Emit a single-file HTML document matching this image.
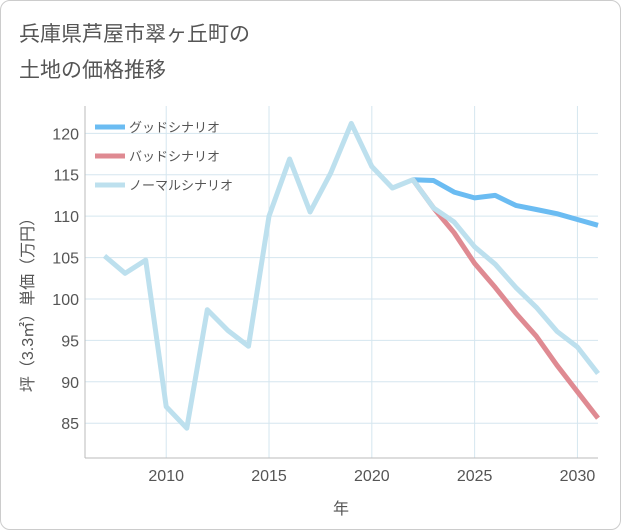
<!DOCTYPE html>
<html><head><meta charset="utf-8"><style>
body{margin:0;background:#fff;font-family:"Liberation Sans","Noto Sans CJK JP",sans-serif}
#wrap{position:relative;width:619px;height:528px;border:1px solid #ccc;border-radius:10px;overflow:hidden}
</style></head><body>
<div id="wrap">
<svg id="c" width="619" height="528"></svg>
</div>
<script>
const years=[2007,2008,2009,2010,2011,2012,2013,2014,2015,2016,2017,2018,2019,2020,2021,2022,2023,2024,2025,2026,2027,2028,2029,2030,2031];
const normal=[105.2,103.1,104.7,87,84.4,98.7,96.2,94.3,110,116.9,110.5,115.2,121.2,116,113.4,114.4,111,109.3,106.3,104.2,101.4,99,96.1,94.2,91];
const goodYears=[2022,2023,2024,2025,2026,2027,2028,2029,2030,2031];
const good=[114.4,114.3,112.9,112.2,112.5,111.3,110.8,110.3,109.6,108.9];
const bad=[114.4,111,108,104.3,101.4,98.3,95.5,92,88.8,85.6];
const xTicks=[2010,2015,2020,2025,2030];
const yTicks=[85,90,95,100,105,110,115,120];
const NS='http://www.w3.org/2000/svg';
const svg=document.getElementById('c');
const L=84,R=597,T=105,B=457,x0=2006.05,x1=2031,y0=80.8,y1=123.3;
const xs=v=>L+(v-x0)/(x1-x0)*(R-L);
const ys=v=>B-(v-y0)/(y1-y0)*(B-T);
function el(t,a,txt){const e=document.createElementNS(NS,t);for(const k in a)e.setAttribute(k,a[k]);if(txt!=null)e.textContent=txt;svg.appendChild(e);return e;}
let e;
e=el('text',{x:18,y:40,'font-size':21,fill:'#555'},'兵庫県芦屋市翠ヶ丘町の');


e=el('text',{x:18,y:76,'font-size':21,fill:'#555'},'土地の価格推移');


yTicks.forEach(v=>{
e=el('line',{x1:L,x2:R,y1:ys(v),y2:ys(v),stroke:'#d5e6ef','stroke-width':1});


e=el('text',{x:L-6,y:ys(v)+6,'font-size':16,fill:'#555','text-anchor':'end'},v);


});
xTicks.forEach(v=>{
e=el('line',{x1:xs(v),x2:xs(v),y1:T,y2:B,stroke:'#d5e6ef','stroke-width':1});


e=el('text',{x:xs(v),y:B+23,'font-size':16,fill:'#555','text-anchor':'middle'},v);


});
e=el('line',{x1:L,x2:L,y1:T,y2:B,stroke:'#bbb'});


e=el('line',{x1:L,x2:R,y1:B,y2:B,stroke:'#bbb'});


e=el('text',{x:340,y:513,'font-size':16,fill:'#555','text-anchor':'middle'},'年');


e=el('text',{x:0,y:0,'font-size':16,fill:'#555','text-anchor':'middle',transform:'translate(32,300) rotate(-90)'},'坪（3.3㎡）単価（万円）');


function line(xv,yv,color,name){
const d=xv.map((x,i)=>(i?'L':'M')+xs(x).toFixed(1)+','+ys(yv[i]).toFixed(1)).join(' ');
const p=el('path',{d:d,fill:'none',stroke:color,'stroke-width':5,'stroke-linejoin':'round'});


}
line(goodYears,good,'#6bbcf2','good-scenario-line');
line(goodYears,bad,'#df8a92','bad-scenario-line');
line(years,normal,'#bde0ee','normal-scenario-line');
const leg=[['グッドシナリオ','#6bbcf2'],['バッドシナリオ','#df8a92'],['ノーマルシナリオ','#bde0ee']];
leg.forEach((l,i)=>{
const y=126+i*29;
e=el('line',{x1:94,x2:124,y1:y,y2:y,stroke:l[1],'stroke-width':5});


e=el('text',{x:128,y:y+5,'font-size':13,fill:'#555'},l[0]);


});
</script>
</body></html>
